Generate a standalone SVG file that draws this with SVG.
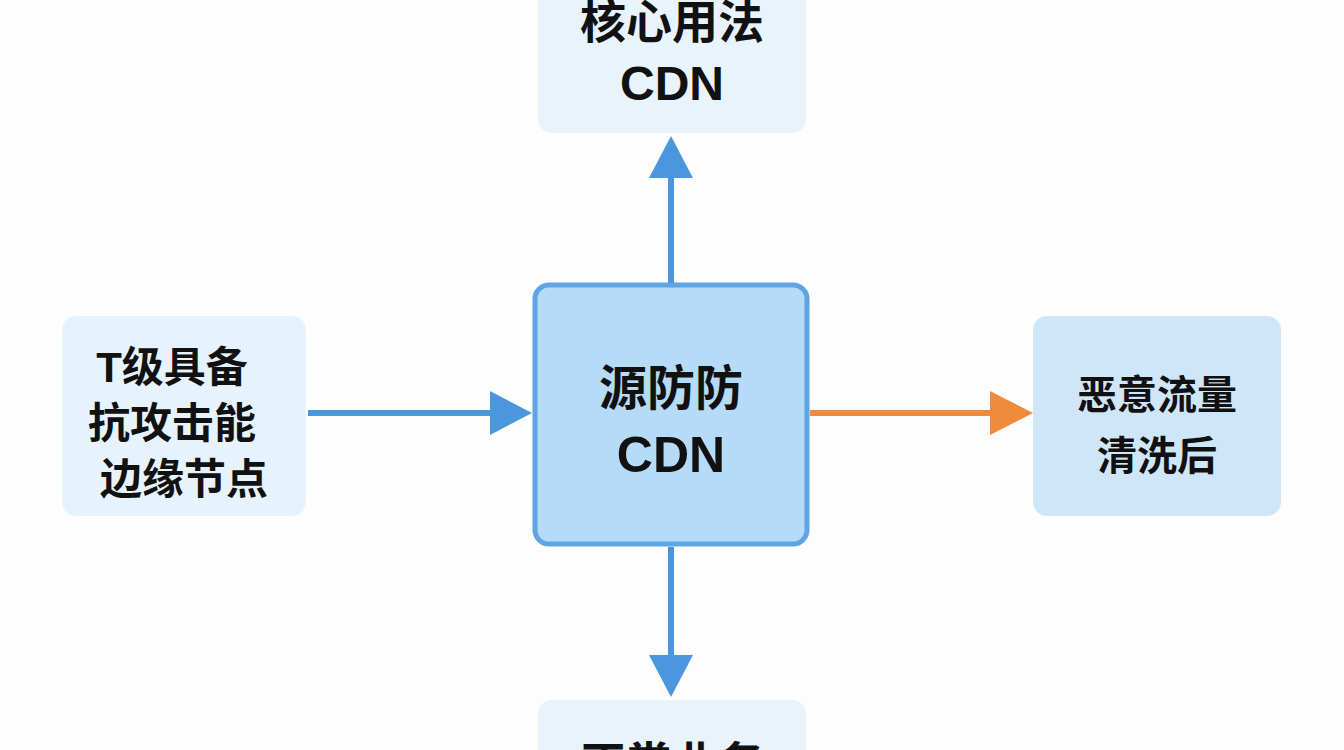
<svg xmlns="http://www.w3.org/2000/svg" width="1344" height="750" viewBox="0 0 1344 750">
<style>
.t{font-family:"Liberation Sans","Noto Sans CJK SC",sans-serif;fill:#111;text-anchor:middle;font-weight:bold}
.b{stroke-width:6;fill:none}
</style>
<rect width="1344" height="750" fill="#fdfdfd"/>
<g id="top"><rect x="538" y="-20" width="268" height="153" rx="14" fill="#e8f3fc"/>
<text class="t" x="672" y="38" font-size="46">核心用法</text><text class="t" x="672" y="100" font-size="48">CDN</text></g>
<g id="center"><rect x="535" y="285" width="272" height="259" rx="14" fill="#b5dbf6" stroke="#5ea6e3" stroke-width="5"/>
<text class="t" x="671" y="405" font-size="48">源防防</text><text class="t" x="671" y="472" font-size="50">CDN</text></g>
<g id="left"><rect x="62" y="316" width="244" height="200" rx="14" fill="#e6f2fc"/>
<text class="t" x="172" y="382" font-size="42">T级具备</text><text class="t" x="172" y="438" font-size="42">抗攻击能</text><text class="t" x="184" y="494" font-size="42">边缘节点</text></g>
<g id="right"><rect x="1033" y="316" width="248" height="200" rx="14" fill="#cfe6f9"/>
<text class="t" x="1157" y="409" font-size="40">恶意流量</text><text class="t" x="1157" y="470" font-size="40">清洗后</text></g>
<g id="bottom"><rect x="538" y="700" width="268" height="80" rx="14" fill="#e8f3fc"/>
<text class="t" x="672" y="780" font-size="46">正常业务</text></g>
<g id="connectors">
<line class="b" stroke="#4a97de" x1="671" y1="283" x2="671" y2="175"/><polygon fill="#4a97de" points="671,136 649,178 693,178"/>
<line class="b" stroke="#4a97de" x1="308" y1="413" x2="495" y2="413"/><polygon fill="#4a97de" points="532,413 490,391 490,435"/>
<line class="b" stroke="#f08a3c" x1="810" y1="413" x2="995" y2="413"/><polygon fill="#f08a3c" points="1033,413 990,391 990,435"/>
<line class="b" stroke="#4a97de" x1="671" y1="547" x2="671" y2="660"/><polygon fill="#4a97de" points="671,697 649,655 693,655"/>
</g>
</svg>
